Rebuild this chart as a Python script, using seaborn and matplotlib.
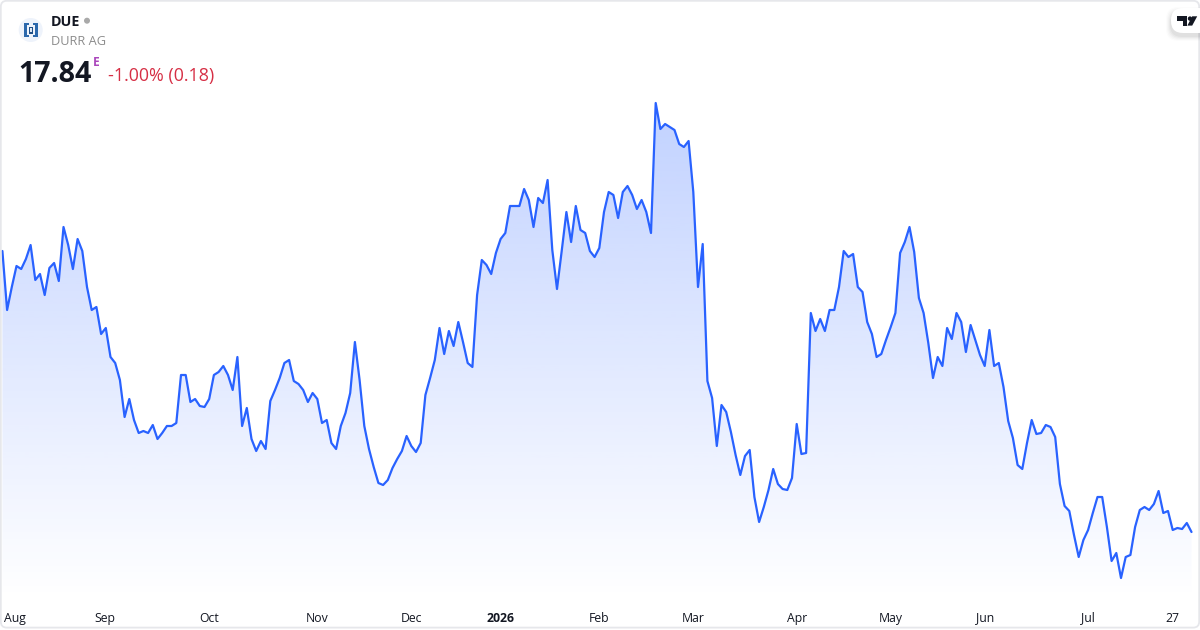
import matplotlib
matplotlib.use("Agg")
import numpy as np
import pandas as pd
import matplotlib.pyplot as plt
import seaborn as sns
from matplotlib.patches import FancyBboxPatch, Circle, Rectangle, Polygon
from matplotlib.colors import LinearSegmentedColormap

ticker = "DUE"
company = "DURR AG"
last_price = "17.84"
change_text = "-1.00% (0.18)"

prices = [
    23.46, 22.28, 22.74, 23.16, 23.10, 23.30, 23.58, 22.88, 23.00, 22.58,
    23.12, 23.22, 22.86, 23.94, 23.58, 23.10, 23.70, 23.46, 22.74, 22.28,
    22.34, 21.80, 21.92, 21.34, 21.22, 20.88, 20.14, 20.50, 20.08, 19.82,
    19.86, 19.82, 19.98, 19.70, 19.82, 19.96, 19.96, 20.02, 20.98, 20.98,
    20.44, 20.50, 20.36, 20.34, 20.50, 20.98, 21.04, 21.16, 20.98, 20.68,
    21.34, 19.96, 20.32, 19.70, 19.46, 19.66, 19.50, 20.46, 20.68, 20.92,
    21.22, 21.28, 20.86, 20.80, 20.68, 20.44, 20.62, 20.50, 20.02, 20.08,
    19.62, 19.50, 19.96, 20.22, 20.62, 21.64, 20.88, 19.96, 19.50, 19.14,
    18.82, 18.78, 18.88, 19.12, 19.30, 19.46, 19.76, 19.56, 19.44, 19.62,
    20.58, 20.92, 21.28, 21.92, 21.40, 21.86, 21.56, 22.04, 21.64, 21.22,
    21.14, 22.58, 23.28, 23.18, 23.00, 23.42, 23.70, 23.82, 24.36, 24.36,
    24.36, 24.70, 24.48, 23.94, 24.52, 24.42, 24.88, 23.48, 22.70, 23.46,
    24.24, 23.64, 24.36, 23.88, 23.82, 23.46, 23.34, 23.52, 24.24, 24.64,
    24.58, 24.12, 24.64, 24.76, 24.58, 24.30, 24.48, 24.24, 23.82, 26.42,
    25.90, 26.00, 25.94, 25.88, 25.60, 25.54, 25.66, 24.64, 22.74, 23.60,
    20.86, 20.52, 19.56, 20.38, 20.24, 19.84, 19.38, 18.98, 19.36, 19.48,
    18.54, 18.04, 18.34, 18.68, 19.10, 18.80, 18.70, 18.68, 18.92, 20.00,
    19.40, 19.42, 22.22, 21.86, 22.10, 21.86, 22.28, 22.28, 22.74, 23.46,
    23.34, 23.40, 22.74, 22.64, 22.04, 21.80, 21.34, 21.40, 21.68, 21.94,
    22.22, 23.42, 23.64, 23.94, 23.44, 22.52, 22.22, 21.62, 20.92, 21.34,
    21.16, 21.92, 21.70, 22.22, 22.04, 21.44, 21.98, 21.68, 21.38, 21.16,
    21.88, 21.16, 21.22, 20.74, 20.06, 19.72, 19.18, 19.10, 19.62, 20.08,
    19.80, 19.82, 19.98, 19.94, 19.74, 18.80, 18.36, 18.26, 17.78, 17.34,
    17.68, 17.88, 18.22, 18.54, 18.54, 17.94, 17.26, 17.42, 16.92, 17.34,
    17.38, 17.94, 18.28, 18.34, 18.28, 18.40, 18.66, 18.22, 18.26, 17.88,
    17.92, 17.90, 18.02, 17.84,
]
tick_labels = ["Aug", "Sep", "Oct", "Nov", "Dec", "2026", "Feb", "Mar", "Apr", "May", "Jun", "Jul", "27"]
tick_positions = [2.7, 21.8, 44, 67, 87, 106, 127, 147, 169, 189, 209, 231, 248.9]

sns.set_theme(style="white")
plt.rcParams["font.family"] = ["Open Sans", "DejaVu Sans"]

LINE = "#2962FF"
INK = "#131722"
W, H = 1200, 630
fig = plt.figure(figsize=(12, 6.3), dpi=100, facecolor="white")

ax = fig.add_axes([0, 30 / H, 1, 600 / H])
df = pd.DataFrame({"session": np.arange(len(prices)), "price": prices})
xlim = (-2.4 / 4.7, (W - 2.4) / 4.7)
ylim = (16.48, 28.48)

# gradient under the line, clipped to the area below the series
top_price = max(prices)
rgba = [(41 / 255, 98 / 255, 1, 0.0), (41 / 255, 98 / 255, 1, 0.29)]
cmap = LinearSegmentedColormap.from_list("fade", rgba)
grad = np.linspace(1, 0, 256).reshape(-1, 1)
im = ax.imshow(grad, cmap=cmap, vmin=0, vmax=1, aspect="auto",
               extent=(df.session.iloc[0], df.session.iloc[-1], ylim[0], top_price),
               interpolation="bilinear", zorder=1)
verts = list(zip(df.session, df.price)) + [(df.session.iloc[-1], ylim[0]), (df.session.iloc[0], ylim[0])]
im.set_clip_path(Polygon(verts, closed=True, transform=ax.transData))

sns.lineplot(data=df, x="session", y="price", ax=ax, color=LINE, linewidth=1.6, zorder=3,
             errorbar=None, estimator=None)

ax.set_xlim(*xlim)
ax.set_ylim(*ylim)
ax.set_xlabel("")
ax.set_ylabel("")
ax.set_yticks([])
ax.set_xticks(tick_positions)
ax.set_xticklabels(tick_labels, fontsize=8.8, color=INK)
ax.tick_params(axis="x", length=0, pad=15.5)
for lab in ax.get_xticklabels():
    lab.set_verticalalignment("baseline")
    if lab.get_text() == "2026":
        lab.set_fontweight("bold")
for s in ax.spines.values():
    s.set_visible(False)
ax.patch.set_alpha(0)

# overlay in pixel coordinates for the header and the card
ov = fig.add_axes([0, 0, 1, 1], zorder=5)
ov.set_xlim(0, W)
ov.set_ylim(H, 0)
ov.axis("off")
ov.patch.set_alpha(0)

ov.add_patch(FancyBboxPatch((0.8, 0.8), W - 1.6, H - 3.2, boxstyle="round,pad=0,rounding_size=6",
                            fc="none", ec="#E6E7EB", lw=1.3))

# TradingView pill
for off, a in [(5, 0.012), (4, 0.02), (3, 0.025), (2, 0.03), (1, 0.035)]:
    ov.add_patch(FancyBboxPatch((1171 - off, 9 - off + 3), 40 + off * 2, 24 + off * 2,
                                boxstyle="round,pad=0,rounding_size=12", fc="black", ec="none", alpha=a,
                                clip_path=Rectangle((0, 0), 1198, H, transform=ov.transData)))
ov.add_patch(FancyBboxPatch((1171, 8), 40, 25, boxstyle="round,pad=0,rounding_size=12", fc="white", ec="none",
                            clip_path=Rectangle((0, 0), 1199, H, transform=ov.transData)))
ov.add_patch(Polygon([(1177.3, 16.3), (1187.3, 16.3), (1187.3, 25.6), (1182.7, 25.6), (1182.7, 20.8), (1177.3, 20.8)],
                     fc=INK, ec="none"))
ov.add_patch(Circle((1190, 18.6), 2.2, fc=INK, ec="none"))
ov.add_patch(Polygon([(1192.2, 16.3), (1197.2, 16.3), (1192.2, 25.6), (1187.4, 25.6)], fc=INK, ec="none"))

# instrument icon
ov.add_patch(Circle((30.7, 30), 12, fc="#EEF3FB", ec="none"))
BLUE = "#2B68AC"
ov.add_patch(Rectangle((24.4, 23.4), 3.0, 13.3, fc=BLUE, ec="none"))
ov.add_patch(Rectangle((34.7, 23.4), 3.0, 13.3, fc=BLUE, ec="none"))
for y in (23.4, 35.2):
    ov.add_patch(Rectangle((24.4, y), 5.0, 1.5, fc=BLUE, ec="none"))
    ov.add_patch(Rectangle((32.7, y), 5.0, 1.5, fc=BLUE, ec="none"))
ov.add_patch(Rectangle((29.3, 26.6), 3.6, 7, fc="#1F4F87", ec="none"))
ov.add_patch(Rectangle((30.3, 27.9), 1.5, 4.4, fc="#DCE7F5", ec="none"))

ov.text(51, 26, ticker, fontsize=10.3, fontweight="bold", color=INK, va="baseline", ha="left")
ov.add_patch(Circle((87, 20.7), 3, fc="#A9A9A9", ec="none"))
ov.text(51, 45, company, fontsize=9.2, color="#8C8C8C", va="baseline", ha="left")
ov.text(18.5, 81.5, last_price, fontsize=20.6, fontweight="bold", color=INK, va="baseline", ha="left")
ov.text(93, 66, "E", fontsize=8.6, fontweight="bold", color="#AB47BC", va="baseline", ha="left")
ov.text(108, 81, change_text, fontsize=12.9, color="#D62F45", va="baseline", ha="left")

fig.savefig("out.png", dpi=100, facecolor="white")
